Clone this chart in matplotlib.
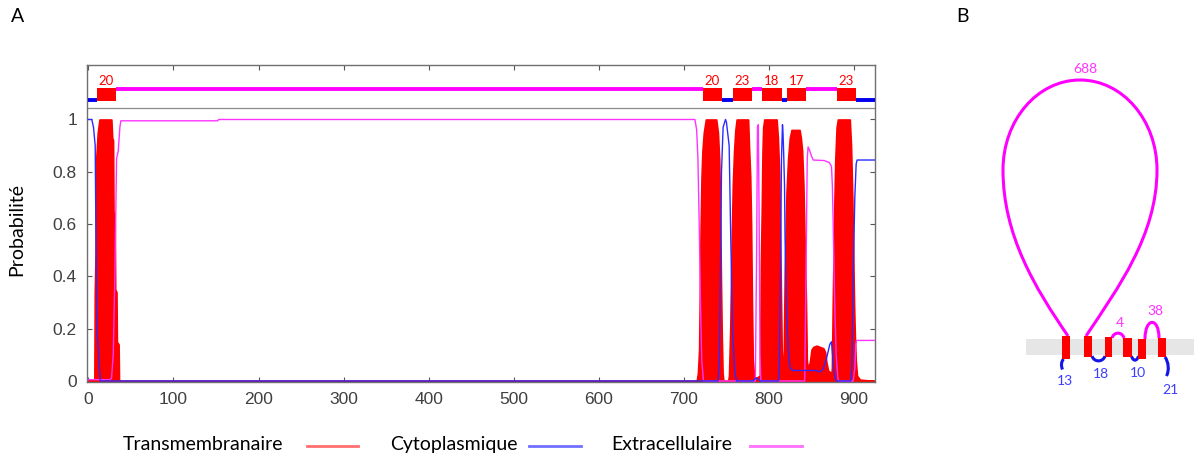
import matplotlib
matplotlib.use('Agg')
import matplotlib.pyplot as plt
from matplotlib.patches import Rectangle, PathPatch
from matplotlib.path import Path
from matplotlib.lines import Line2D

# ---------------- data ----------------
series_names = ['Transmembranaire', 'Cytoplasmique', 'Extracellulaire']

tm_x = [0, 7, 7.5, 8.5, 9, 11, 13, 27, 28, 29, 29.5, 31, 31.5, 33, 33.5, 35.5, 36,
        715, 716.5, 717.9, 719.5, 720.7, 721.8, 723.4, 725.8, 738, 740, 741.5, 742.5,
        743.5, 744.5, 745.5, 746.5, 752, 753, 754.5, 756, 757.5, 759, 760.5, 762,
        775.5, 776.5, 778, 779, 780, 781, 782.5, 784, 789.2, 790, 790.5, 791.5, 792.4,
        793.2, 794.5, 809, 810.5, 812, 813, 814, 815, 816.5, 817.4, 818.6, 819.8,
        820.6, 822.5, 824.5, 826.5, 836, 837.5, 839, 840.5, 841.5, 842.5, 843.5,
        844.5, 845.5, 848, 850, 852, 856, 860, 864, 866, 867.6, 869.5, 873.5, 874,
        875, 876, 877, 878, 879.5, 881, 895, 896.5, 898, 899, 900, 901, 902, 903.5,
        907, 925]
tm_y = [0.005, 0.005, 0.34, 0.5, 0.84, 0.95, 1.0, 1.0, 0.93, 0.92, 0.65, 0.6, 0.35,
        0.34, 0.15, 0.14, 0.0,
        0.0, 0.03, 0.12, 0.55, 0.78, 0.88, 0.95, 1.0, 1.0, 0.95, 0.85, 0.7,
        0.4, 0.18, 0.03, 0.0, 0.0, 0.02, 0.2, 0.5, 0.75, 0.88, 0.96, 1.0,
        1.0, 0.9, 0.78, 0.6, 0.3, 0.08, 0.02, 0.01, 0.02, 0.25, 0.45, 0.65, 0.88,
        0.97, 1.0, 1.0, 0.93, 0.8, 0.6, 0.35, 0.12, 0.02, 0.1, 0.43, 0.6,
        0.72, 0.85, 0.93, 0.96, 0.96, 0.93, 0.88, 0.75, 0.6, 0.45, 0.3,
        0.08, 0.05, 0.07, 0.12, 0.13, 0.135, 0.13, 0.125, 0.11, 0.07, 0.04, 0.03, 0.05,
        0.3, 0.5, 0.7, 0.85, 0.97, 1.0, 1.0, 0.9, 0.7, 0.5, 0.3, 0.17, 0.08, 0.02,
        0.005, 0.0]

cyto_x = [0, 4, 6, 8, 9, 10, 12, 14, 740, 741.4, 742.2, 744.2, 746.1, 748.9, 750,
          753.2, 754.8, 757.1, 759.8, 762, 781, 785, 790, 811, 812, 813.5, 814.7,
          815.9, 816.5, 817.2, 818.3, 818.9, 820, 820.8, 822.7, 824.7, 828, 855, 860,
          863.7, 867.6, 871.5, 873.5, 875.4, 877.4, 879.3, 896, 897.5, 898.9, 900.9,
          902.5, 903.6, 925]
cyto_y = [1.0, 1.0, 0.97, 0.9, 0.5, 0.2, 0.1, 0.0, 0.0, 0.05, 0.2, 0.8, 0.97, 1.0, 0.99,
          0.9, 0.6, 0.2, 0.03, 0.0, 0.0, 0.012, 0.0, 0.0, 0.02, 0.4, 0.85,
          0.98, 0.95, 0.88, 0.75, 0.55, 0.37, 0.25, 0.12, 0.05, 0.04, 0.04, 0.035,
          0.045, 0.085, 0.14, 0.15, 0.07, 0.015, 0.0, 0.0, 0.05, 0.386, 0.7,
          0.83, 0.845, 0.845]

extra_x = [0, 25, 27.2, 29.2, 31.1, 33.1, 35.1, 37, 38.1, 152, 153, 713, 715, 716.5,
           718, 719.5, 721, 723, 784, 785.5, 786.5, 787.5, 788.5, 789.5, 790.5, 842,
           843.5, 845, 846, 848, 850, 852, 865, 871, 873.5, 874.5, 875.5, 876.5, 877.5,
           879, 881, 882, 899, 901, 902, 903, 925]
extra_y = [0.005, 0.005, 0.01, 0.1, 0.4, 0.85, 0.88, 0.97, 0.995, 0.995, 1.0, 1.0, 0.96,
           0.85, 0.6, 0.3, 0.08, 0.0, 0.0, 0.5, 0.97, 0.98, 0.6, 0.1, 0.0, 0.0,
           0.4, 0.85, 0.895, 0.88, 0.86, 0.845, 0.843, 0.835, 0.82, 0.75, 0.6, 0.42, 0.27,
           0.1, 0.01, 0.0, 0.0, 0.05, 0.14, 0.155, 0.155]

# predicted topology (top bar)
tm_seg_start = [9.6, 722, 758, 792, 821, 880]
tm_seg_end = [32, 745, 780, 815, 843, 902]
tm_seg_labels = ['20', '20', '23', '18', '17', '23']
cyto_seg_start = [0, 745, 815, 902]
cyto_seg_end = [9.6, 758, 821, 925]
extra_seg_start = [32, 780, 843]
extra_seg_end = [722, 792, 880]

x_ticks = [0, 100, 200, 300, 400, 500, 600, 700, 800, 900]
y_ticks = [0, 0.2, 0.4, 0.6, 0.8, 1.0]
y_tick_labels = ['0', '0.2', '0.4', '0.6', '0.8', '1']

# panel B: loop lengths (N-term -> C-term) and side
b_loop_len = [13, 688, 18, 4, 10, 38, 21]
b_loop_side = ['in', 'out', 'in', 'out', 'in', 'out', 'in']

# ---------------- figure ----------------
W, H = 1194, 454
fig = plt.figure(figsize=(W / 100, H / 100), dpi=100)
TXT = 'Lato'
RED, BLUE, MAG = '#ff0000', '#2b2bff', '#ff33ff'


def fx(px):
    return px / W


def fy(py):
    return 1 - py / H


ax = fig.add_axes([fx(86.7), fy(382), fx(875.3 - 86.7), (382 - 65) / H])
ax.set_xlim(-2, 925)
ax.set_ylim(-0.004, 1.2084)

ax.fill_between(tm_x, 0, tm_y, color=RED, lw=1.2, edgecolor=RED, zorder=2)
ax.plot(extra_x, extra_y, color=MAG, lw=1.0, zorder=3)
ax.plot(cyto_x, cyto_y, color=BLUE, lw=1.0, zorder=4)

# topology bar
ax.axhline(1.044, color='#8c8c8c', lw=0.9, zorder=1)
for s, e in zip(extra_seg_start, extra_seg_end):
    ax.plot([s, e], [1.117, 1.117], color='#ff00ff', lw=2.8, solid_capstyle='butt', zorder=3)
for s, e in zip(cyto_seg_start, cyto_seg_end):
    ax.plot([s, e], [1.073, 1.073], color='#0000ee', lw=2.8, solid_capstyle='butt', zorder=3)
for s, e, lab in zip(tm_seg_start, tm_seg_end, tm_seg_labels):
    ax.add_patch(Rectangle((s, 1.07), e - s, 0.05, color=RED, lw=0, zorder=4))
    ax.text((s + e) / 2, 1.147, lab, color=RED, fontsize=9.5, family=TXT,
            ha='center', va='center', zorder=5)

ax.set_xticks(x_ticks)
ax.set_yticks(y_ticks)
ax.set_yticklabels(y_tick_labels)
ax.tick_params(direction='in', length=3.5, width=0.8, color='#555555',
               top=True, right=True, labelsize=12.5, labelcolor='#404040', pad=7)
for lab in ax.get_xticklabels() + ax.get_yticklabels():
    lab.set_family('Liberation Sans')
for sp in ax.spines.values():
    sp.set_color('#707070')
    sp.set_linewidth(1.0)
ax.set_ylabel('Probabilité', family=TXT, fontsize=14)
ax.yaxis.set_label_coords(-(86.7 - 25) / (875.3 - 86.7), (382 - 230) / (382 - 65))

# legend (text then line)
leg_colors = ['#ff7070', '#7070ff', '#ff70ff']
leg_text_x = [123, 390, 611]
leg_line_x = [(307, 358), (529, 581), (750, 802)]
for name, c, tx, (l0, l1) in zip(series_names, leg_colors, leg_text_x, leg_line_x):
    fig.text(fx(tx), fy(450), name, family=TXT, fontsize=14, ha='left', va='baseline')
    fig.add_artist(Line2D([fx(l0), fx(l1)], [fy(445.5), fy(445.5)], color=c, lw=2.0))

# panel letters
fig.text(fx(17.5), fy(17), 'A', family=TXT, fontsize=14, ha='center', va='center')
fig.text(fx(962), fy(17), 'B', family=TXT, fontsize=14, ha='center', va='center')

# ---------------- panel B (topology cartoon) ----------------
axb = fig.add_axes([fx(980), 0, fx(W - 980), 1])
axb.set_xlim(980, W)
axb.set_ylim(H, 0)
axb.axis('off')
axb.add_patch(Rectangle((1026, 339), W - 1026, 16, color='#e6e6e6', lw=0, zorder=1))

tm_boxes = [(1062.3, 1070.3, 335.7, 359.3), (1084.3, 1092.0, 335.7, 357.3),
            (1105.0, 1112.3, 336.7, 357.3), (1123.3, 1131.7, 337.7, 357.3),
            (1138.3, 1145.7, 338.7, 359.0), (1157.7, 1165.7, 337.7, 357.3)]
for x0, x1, y0, y1 in tm_boxes:
    axb.add_patch(Rectangle((x0, y0), x1 - x0, y1 - y0, color=RED, lw=0, zorder=3))

C4 = Path.CURVE4
loop_paths = [
    [(1063.5, 359), (1061, 362), (1061, 366), (1062.5, 369.5)],
    [(1068, 336), (1035, 288), (1003, 235), (1003, 170), (1003, 120), (1037.5, 80),
     (1080, 80), (1122.5, 80), (1157, 120), (1157, 170), (1157, 235), (1118, 288),
     (1086, 336)],
    [(1092, 356), (1094, 362.5), (1103, 362.5), (1105, 356)],
    [(1112, 338), (1114, 331.5), (1122, 331.5), (1124, 338)],
    [(1131.5, 356), (1133, 361.5), (1137, 361.5), (1138.5, 356)],
    [(1145, 339), (1145, 317), (1159, 317), (1159, 338)],
    [(1165, 357), (1168.5, 362), (1169.5, 370), (1166.5, 376)],
]
label_pos = [(1065, 381), (1085, 69), (1100.7, 374.3), (1120, 323),
             (1137.7, 373.3), (1155, 311), (1170, 390)]
for pts, n, side, (lx, ly) in zip(loop_paths, b_loop_len, b_loop_side, label_pos):
    col = '#ff00ff' if side == 'out' else '#1414e6'
    tcol = '#ff33ff' if side == 'out' else '#3c3cff'
    codes = [Path.MOVETO] + [C4] * (len(pts) - 1)
    axb.add_patch(PathPatch(Path(pts, codes), fill=False, edgecolor=col, lw=2.2,
                            capstyle='butt', zorder=2))
    axb.text(lx, ly, str(n), color=tcol, family=TXT, fontsize=10,
             ha='center', va='center', zorder=4)

fig.savefig('out.png', dpi=100)
